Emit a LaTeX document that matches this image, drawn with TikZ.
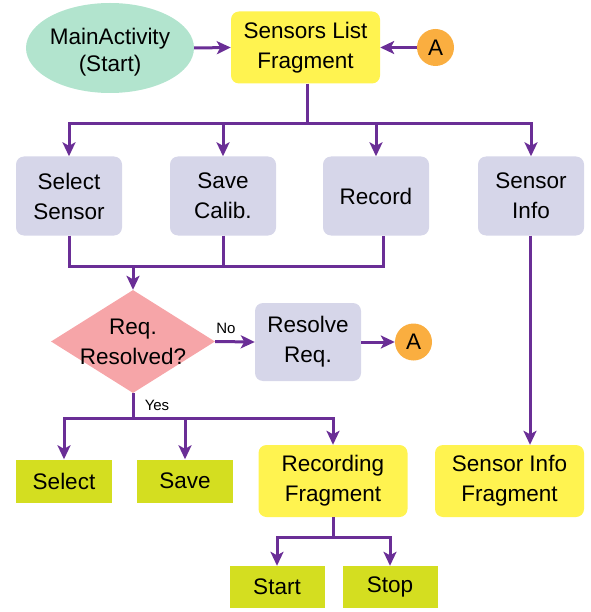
\documentclass[tikz,border=0pt]{standalone}
\usepackage{fontspec}
\setmainfont{Liberation Sans}
\usetikzlibrary{shapes.geometric,arrows.meta}
\definecolor{lnpurple}{RGB}{106,46,150}
\definecolor{lav}{RGB}{214,214,233}
\definecolor{ylw}{RGB}{255,243,80}
\definecolor{ygrn}{RGB}{212,222,32}
\definecolor{pnk}{RGB}{246,165,168}
\definecolor{orng}{RGB}{250,174,64}
\definecolor{mint}{RGB}{178,228,206}
\tikzset{
  base/.style={inner sep=0pt, align=center, font=\fontsize{22.5}{30}\selectfont, text=black},
  actbox/.style={base, fill=lav, rounded corners=8pt, minimum width=106pt, minimum height=79pt},
  fragbox/.style={base, fill=ylw, rounded corners=8pt, minimum width=149pt, minimum height=72pt},
  leafbox/.style={base, fill=ygrn, minimum width=96pt, minimum height=43pt},
  conn/.style={base, circle, fill=orng, minimum size=37pt},
  wire/.style={draw=lnpurple, line width=3pt},
  arr/.style={wire, -{Stealth[length=14pt,width=13pt,inset=3.5pt]}},
  lbl/.style={inner sep=0pt, font=\fontsize{15}{18}\selectfont, text=black}
}
\begin{document}
\begin{tikzpicture}[x=1pt,y=-1pt]
\useasboundingbox (0,0) rectangle (590,612);
% top row
\node[base, ellipse, fill=mint, minimum width=168pt, minimum height=90pt] (main) at (110,48) {};
\node[base, font=\fontsize{22.5}{27}\selectfont] (maint) at (110,52) {MainActivity\\(Start)};
\node[fragbox] (slf) at (305.5,47.5) {Sensors List\\Fragment};
\node[conn] (a1) at (435.5,47.5) {A};
% activity row
\node[actbox] (sel) at (69,196) {Select\\Sensor};
\node[actbox] (sav) at (223,196) {Save\\Calib.};
\node[actbox] (rec) at (376,196) {Record};
\node[actbox] (inf) at (531,196) {Sensor\\Info};
% decision
\node[base, diamond, fill=pnk, minimum width=164pt, minimum height=103pt] (dia) at (133,341.5) {};
\node[base] (diat) at (dia.center) {Req.\\Resolved?};
\node[actbox, minimum height=78pt] (res) at (308,342) {Resolve\\Req.};
\node[conn] (a2) at (413.5,342) {A};
% bottom
\node[leafbox] (sel2) at (64,481) {Select};
\node[leafbox] (sav2) at (185,481) {Save};
\node[fragbox] (recf) at (333,481) {Recording\\Fragment};
\node[fragbox] (sif) at (509.5,481) {Sensor Info\\Fragment};
\node[leafbox, minimum width=95pt, minimum height=42pt] (start) at (277,587) {Start};
\node[leafbox, minimum width=95pt, minimum height=42pt] (stop) at (390,587) {Stop};
% junction coordinates
\coordinate (j1) at (307,124);
\coordinate (j2) at (133,266);
\coordinate (r2) at (383,266);
\coordinate (j3) at (133,418);
\coordinate (j4) at (333,537);
% connectors
\draw[arr] (main.east) -- (slf.west);
\draw[arr] (a1) -- (slf);
\draw[wire] (slf.south -| j1) -- (j1);
\draw[arr] (j1) -| (sel.north);
\draw[arr] (j1) -| (sav.north);
\draw[arr] (j1) -| (rec.north);
\draw[arr] (j1) -| (inf.north);
\draw[wire] (sel.south) |- (r2) -- (rec.south -| r2);
\draw[wire] (sav.south) -- (sav.south |- r2);
\draw[arr] (j2) -- (dia.north);
\draw[arr] (dia.east) -- (res.west);
\node[lbl] (nolbl) at (226,328) {No};
\draw[arr] (res) -- (a2);
\draw[wire] (dia.south) -- (j3);
\node[lbl] (yeslbl) at (157,405) {Yes};
\draw[arr] (j3) -| (sel2.north);
\draw[arr] (j3) -| (sav2.north);
\draw[arr] (j3) -| (recf.north);
\draw[arr] (inf.south -| 530,0) -- (sif.north -| 530,0);
\draw[wire] (recf.south) -- (j4);
\draw[arr] (j4) -| (start.north);
\draw[arr] (j4) -| (stop.north);
\end{tikzpicture}
\end{document}
